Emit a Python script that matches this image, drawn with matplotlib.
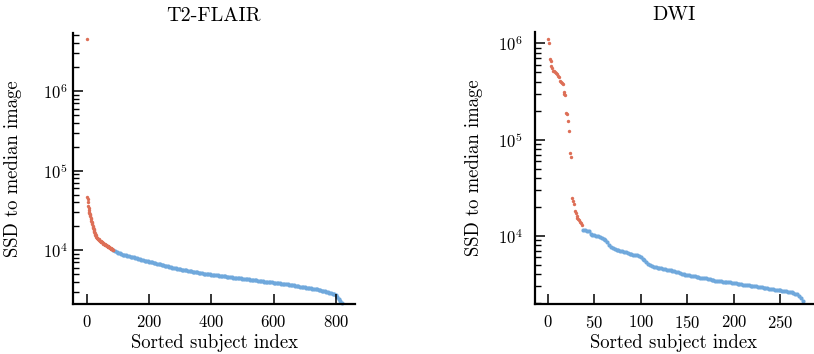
import numpy as np
import matplotlib
matplotlib.use("Agg")
import matplotlib.pyplot as plt

plt.rcParams["font.family"] = ["cmr10", "DejaVu Serif"]
plt.rcParams["mathtext.fontset"] = "cm"
plt.rcParams["axes.formatter.use_mathtext"] = True

red = "#dd6f57"
blue = "#6fa8dc"

# T2-FLAIR : outliers (red) then the rest (blue)
t2_red_idx = np.arange(0, 85)
t2_red_val = [4500000,
    46000, 44000, 40000, 36000, 34000, 32000, 30500, 29500, 28500, 27500,
    26500, 25500, 24500, 23500, 22500, 21700, 21000, 20300, 19700, 19100,
    18500, 18000, 17500, 17000, 16500, 16100, 15700, 15300, 15000, 14700,
    14400, 14200, 14000, 13900, 13800, 13700, 13600, 13500, 13400, 13300,
    13200, 13100, 13000, 12900, 12800, 12700, 12650, 12600, 12500, 12400,
    12300, 12200, 12100, 12000, 11950, 11900, 11800, 11700, 11600, 11550,
    11500, 11450, 11400, 11300, 11250, 11200, 11150, 11100, 11000, 10950,
    10900, 10800, 10700, 10650, 10600, 10500, 10450, 10400, 10350, 10300,
    10250, 10200, 10100, 10050]
t2_blue_idx = np.arange(85, 821, 5)
t2_blue_val = [
    10000, 9750, 9500, 9300, 9100, 8950, 8800, 8680, 8580, 8480,
    8380, 8280, 8180, 8080, 7980, 7880, 7780, 7680, 7580, 7480,
    7400, 7320, 7240, 7160, 7080, 7000, 6920, 6840, 6760, 6680,
    6600, 6520, 6450, 6380, 6310, 6240, 6170, 6100, 6040, 5980,
    5920, 5860, 5800, 5750, 5700, 5650, 5600, 5550, 5500, 5450,
    5400, 5360, 5320, 5280, 5240, 5200, 5160, 5120, 5080, 5050,
    5020, 4990, 4960, 4930, 4900, 4870, 4840, 4810, 4780, 4750,
    4720, 4690, 4660, 4630, 4600, 4570, 4540, 4510, 4490, 4470,
    4440, 4420, 4400, 4380, 4360, 4340, 4310, 4290, 4270, 4240,
    4220, 4200, 4170, 4140, 4110, 4080, 4060, 4030, 4000, 3980,
    3960, 3940, 3920, 3900, 3880, 3860, 3840, 3820, 3800, 3770,
    3740, 3720, 3700, 3680, 3650, 3620, 3590, 3560, 3530, 3500,
    3470, 3440, 3410, 3390, 3370, 3350, 3330, 3310, 3290, 3270,
    3250, 3220, 3190, 3150, 3100, 3060, 3020, 2980, 2940, 2900,
    2860, 2820, 2780, 2730, 2600, 2450, 2320, 2180]

# DWI
dwi_red_idx = np.arange(0, 38)
dwi_red_val = [
    1100000, 1000000, 680000, 650000, 580000, 550000, 520000, 510000, 500000, 490000,
    475000, 460000, 450000, 410000, 400000, 390000, 380000, 310000, 295000, 290000,
    190000, 185000, 155000, 122000, 73000, 66000, 24500, 23000, 21500, 18000,
    17200, 16000, 15500, 15000, 14500, 14000, 13500, 13000]
dwi_blue_idx = np.arange(38, 275, 2)
dwi_blue_val = [
    11400, 11400, 11300, 11200, 10500, 10300, 10200, 10100, 10000, 9700,
    9500, 9300, 9100, 8600, 8000, 7700, 7500, 7300, 7200, 7100,
    7000, 6950, 6900, 6850, 6700, 6550, 6450, 6400, 6350, 6300,
    6150, 6000, 5800, 5600, 5350, 5150, 4950, 4850, 4800, 4750,
    4700, 4650, 4620, 4580, 4530, 4480, 4440, 4400, 4370, 4320,
    4260, 4200, 4130, 4070, 4000, 3950, 3920, 3900, 3880, 3850,
    3810, 3770, 3730, 3700, 3670, 3640, 3620, 3580, 3540, 3500,
    3470, 3440, 3420, 3400, 3370, 3340, 3320, 3310, 3300, 3290,
    3270, 3250, 3220, 3190, 3170, 3150, 3130, 3110, 3090, 3070,
    3050, 3030, 3010, 2990, 2970, 2950, 2930, 2910, 2890, 2870,
    2840, 2810, 2790, 2780, 2760, 2740, 2720, 2700, 2690, 2670,
    2650, 2630, 2600, 2560, 2520, 2470, 2380, 2250, 2100]

fig = plt.figure(figsize=(8.14, 3.54), dpi=100)
ax1 = fig.add_axes([0.0897, 0.1412, 0.3464, 0.7655])
ax2 = fig.add_axes([0.6572, 0.1412, 0.3415, 0.7684])

panels = [
    (ax1, "T2-FLAIR", t2_red_idx, t2_red_val, t2_blue_idx, t2_blue_val,
     (-45, 862), (2100, 5.37e6), [0, 200, 400, 600, 800], 4, -0.181),
    (ax2, "DWI", dwi_red_idx, dwi_red_val, dwi_blue_idx, dwi_blue_val,
     (-13.7, 285), (1967, 1.31e6), [0, 50, 100, 150, 200, 250], 8.5, -0.187),
]

for ax, title, ri, rv, bi, bv, xl, yl, xt, ypad, ylab_x in panels:
    ax.scatter(bi, bv, s=9, color=blue, linewidths=0, clip_on=False)
    ax.scatter(ri, rv, s=6, color=red, linewidths=0, clip_on=False)
    ax.set_yscale("log")
    ax.set_xlim(*xl)
    ax.set_ylim(*yl)
    ax.set_xticks(xt)
    ax.set_title(title, fontsize=14.5, pad=9)
    ax.set_xlabel("Sorted subject index", fontsize=13.5)
    ax.set_ylabel("SSD to median image", fontsize=13.5)
    ax.xaxis.set_label_coords(0.5, -0.112)
    ax.yaxis.set_label_coords(ylab_x, 0.5)
    for s in ["top", "right"]:
        ax.spines[s].set_visible(False)
    for s in ["left", "bottom"]:
        ax.spines[s].set_linewidth(1.6)
    ax.tick_params(which="major", direction="in", length=7, width=1.1, labelsize=12)
    ax.tick_params(axis="x", pad=7)
    ax.tick_params(axis="y", pad=ypad)
    ax.tick_params(which="minor", direction="in", length=4, width=1.0)

fig.savefig("out.png", dpi=100)
